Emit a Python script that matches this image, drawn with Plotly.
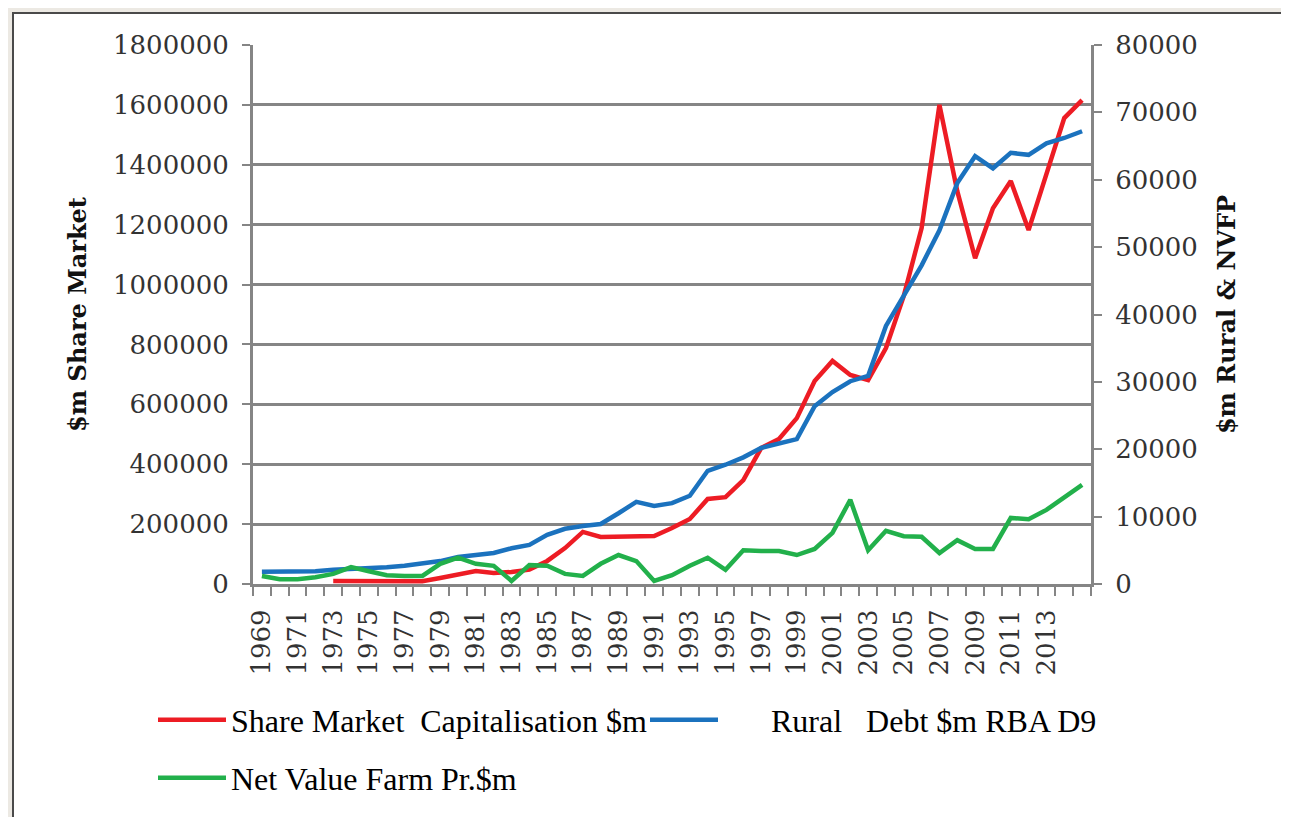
import plotly.graph_objects as go

# Years on the category axis (labels are shown every second year)
years = list(range(1969, 2016))
label_years = list(range(1969, 2014, 2))

# Share market capitalisation, $m (left axis) - no values before 1973
share_market = [
    None, None, None, None,
    10000, 10000, 8000, 8000, 8000, 9000, 20000, 33000, 43000, 37000,
    40000, 48000, 77000, 120000, 174000, 157000, 157000, 157000, 160000,
    187000, 217000, 284000, 290000, 347000, 454000, 484000, 554000,
    678000, 745000, 698000, 681000, 788000, 962000, 1189000, 1600000,
    1312000, 1088000, 1255000, 1346000, 1182000, 1372000, 1556000, 1616000,
]

# Rural debt, $m RBA D9 (right axis)
rural_debt = [
    1800, 1800, 1800, 1900, 2100, 2200, 2400, 2500, 2700, 3000,
    3400, 4000, 4300, 4600, 5300, 5800, 7300, 8200, 8600, 8900,
    10500, 12200, 11600, 12000, 13100, 16800, 17700, 18800, 20200, 20900,
    21500, 26400, 28500, 30100, 30900, 38300, 42900, 47300, 52500, 59500,
    63500, 61700, 64000, 63700, 65400, 66200, 67200,
]

# Net value of farm production, $m (right axis)
farm_production = [
    1200, 700, 700, 1000, 1500, 2500, 1900, 1300, 1200, 1200,
    3000, 3900, 3000, 2700, 450, 2800, 2700, 1500, 1200, 3000,
    4300, 3400, 450, 1300, 2700, 3900, 2100, 5000, 4900, 4900,
    4300, 5200, 7600, 12500, 5000, 7900, 7100, 7000, 4600, 6500,
    5200, 5200, 9800, 9600, 11000, 12800, 14700,
]

GREY = "#858585"
TICK_FONT = dict(family="DejaVu Serif", size=26, color="#333333")
TITLE_FONT = dict(family="DejaVu Serif", size=24, color="#111111", weight="bold")
LEGEND_FONT = dict(family="Liberation Serif", size=32, color="#000000")

NB = "\u00a0"

# plot area in pixels, used to place the legends and frame
L, R, T, B = 245, 1083, 37, 576
W, H = 1289, 817


def px_x(x):
    return (x - L) / (R - L)


def px_y(y):
    return (B - y) / (B - T)


fig = go.Figure()

fig.add_trace(
    go.Scatter(
        x=years,
        y=share_market,
        mode="lines",
        name="Share Market" + NB + NB + "Capitalisation $m",
        line=dict(color="#ED1C24", width=4.5),
        legend="legend",
    )
)

fig.add_trace(
    go.Scatter(
        x=years,
        y=rural_debt,
        mode="lines",
        name=NB * 6 + "Rural" + NB * 3 + "Debt $m RBA D9",
        line=dict(color="#1B72BE", width=4.5),
        yaxis="y2",
        legend="legend",
    )
)

fig.add_trace(
    go.Scatter(
        x=years,
        y=farm_production,
        mode="lines",
        name="Net Value Farm Pr.$m",
        line=dict(color="#22B04B", width=4.5),
        yaxis="y2",
        legend="legend2",
    )
)

# outer chart frame
fig.add_shape(
    type="rect",
    xref="paper", yref="paper",
    x0=px_x(5), x1=px_x(1284), y0=px_y(812), y1=px_y(5),
    line=dict(color="#4a4a4a", width=2),
    fillcolor="white",
    layer="below",
)

fig.update_layout(
    width=W,
    height=H,
    margin=dict(l=L, r=W - R, t=T, b=H - B, pad=0),
    paper_bgcolor="#ECE9E3",
    plot_bgcolor="rgba(0,0,0,0)",
    showlegend=True,
    xaxis=dict(
        range=[1968.5, 2015.5],
        tickmode="array",
        tickvals=label_years,
        ticktext=[str(y) for y in label_years],
        tickangle=-90,
        ticks="outside",
        ticklen=0,
        ticklabelstandoff=12,
        tickfont=TICK_FONT,
        showgrid=False,
        zeroline=False,
        showline=True,
        linecolor=GREY,
        linewidth=3,
        minor=dict(
            tickmode="linear",
            tick0=1968.5,
            dtick=1,
            ticks="outside",
            ticklen=9,
            tickwidth=2,
            tickcolor=GREY,
            showgrid=False,
        ),
    ),
    yaxis=dict(
        range=[0, 1800000],
        dtick=200000,
        tickformat="d",
        ticks="outside",
        ticklen=8,
        tickwidth=2,
        tickcolor=GREY,
        tickfont=TICK_FONT,
        ticklabelstandoff=8,
        showgrid=True,
        gridcolor=GREY,
        gridwidth=3,
        zeroline=False,
        showline=True,
        linecolor=GREY,
        linewidth=3,
        title=dict(text="$m Share Market", font=TITLE_FONT, standoff=20),
    ),
    yaxis2=dict(
        range=[0, 80000],
        dtick=10000,
        tickformat="d",
        overlaying="y",
        side="right",
        ticks="outside",
        ticklen=8,
        tickwidth=2,
        tickcolor=GREY,
        tickfont=TICK_FONT,
        ticklabelstandoff=8,
        showgrid=False,
        zeroline=False,
        showline=True,
        linecolor=GREY,
        linewidth=3,
        title=dict(text="$m Rural & NVFP", font=TITLE_FONT, standoff=22),
    ),
    legend=dict(
        orientation="h",
        x=px_x(145),
        xanchor="left",
        y=px_y(712),
        yanchor="middle",
        font=LEGEND_FONT,
        itemwidth=68,
        entrywidth=409,
        bgcolor="rgba(0,0,0,0)",
    ),
    legend2=dict(
        orientation="h",
        x=px_x(145),
        xanchor="left",
        y=px_y(770),
        yanchor="middle",
        font=LEGEND_FONT,
        itemwidth=68,
        bgcolor="rgba(0,0,0,0)",
    ),
)

fig.write_html("out.html")
